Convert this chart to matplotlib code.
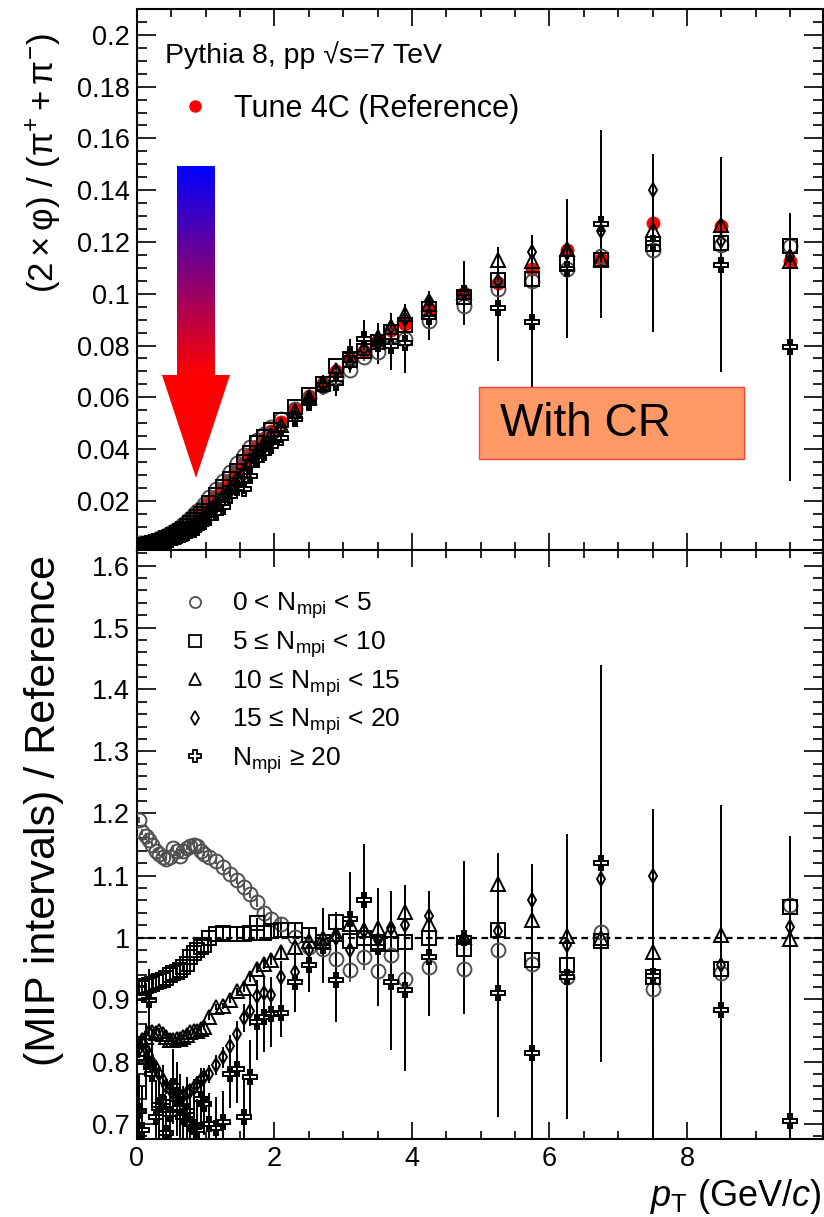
import numpy as np
import matplotlib
matplotlib.use("Agg")
import matplotlib.pyplot as plt
from matplotlib.lines import Line2D
from matplotlib.patches import Polygon, Rectangle
from matplotlib.colors import LinearSegmentedColormap
from matplotlib.ticker import MultipleLocator, FuncFormatter

plt.rcParams['font.family'] = ['Liberation Sans', 'DejaVu Sans']
plt.rcParams['mathtext.fontset'] = 'custom'
plt.rcParams['mathtext.rm'] = 'Liberation Sans'
plt.rcParams['mathtext.it'] = 'Liberation Sans:italic'
plt.rcParams['mathtext.bf'] = 'Liberation Sans:bold'

# -----------------------------
# DATA
# -----------------------------
pt = [0.025, 0.075, 0.125, 0.175, 0.225, 0.275, 0.325, 0.375, 0.425, 0.475,
      0.525, 0.575, 0.625, 0.675, 0.725, 0.775, 0.825, 0.875, 0.925, 0.975,
      1.05, 1.15, 1.25, 1.35, 1.45, 1.55, 1.65, 1.75, 1.85, 1.95,
      2.1, 2.3, 2.5, 2.7, 2.9, 3.1, 3.3, 3.5, 3.7, 3.9,
      4.25, 4.75, 5.25, 5.75, 6.25, 6.75, 7.5, 8.5, 9.5]

# Tune 4C reference phi/pi ratio
ref = [0.0030, 0.0031, 0.0033, 0.0036, 0.0040, 0.0044, 0.0049, 0.0054, 0.0060, 0.0066,
       0.0072, 0.0080, 0.0088, 0.0097, 0.0107, 0.0117, 0.0128, 0.0140, 0.0152, 0.0164,
       0.0190, 0.0220, 0.0250, 0.0282, 0.0315, 0.0348, 0.0382, 0.0413, 0.0442, 0.0470,
       0.0505, 0.0555, 0.0605, 0.0655, 0.0702, 0.0746, 0.0780, 0.0820, 0.0860, 0.0884,
       0.0940, 0.1004, 0.1040, 0.1096, 0.1170, 0.1135, 0.1274, 0.1260, 0.1127]

# ratios (MIP interval / reference)
r_0_5 = [1.19, 1.17, 1.163, 1.158, 1.15, 1.14, 1.135, 1.13, 1.127, 1.13,
         1.145, 1.14, 1.132, 1.14, 1.145, 1.148, 1.15, 1.147, 1.14, 1.135,
         1.13, 1.123, 1.113, 1.103, 1.093, 1.082, 1.07, 1.057, 1.04, 1.03,
         1.022, 1.001, 0.985, 0.982, 0.965, 0.947, 0.968, 0.946, 0.971, 0.933,
         0.953, 0.95, 0.98, 0.958, 0.937, 1.009, 0.917, 0.943, 1.052]
r_5_10 = [0.91, 0.918, 0.922, 0.923, 0.925, 0.928, 0.93, 0.931, 0.935, 0.939,
          0.942, 0.944, 0.948, 0.952, 0.958, 0.968, 0.975, 0.98, 0.984, 0.988,
          1.0, 1.006, 1.008, 1.006, 1.006, 1.006, 1.008, 1.024, 1.008, 1.011,
          1.012, 1.012, 1.004, 0.993, 1.025, 0.995, 1.0, 0.99, 0.99, 0.993,
          1.0, 0.982, 1.012, 0.964, 0.956, 0.995, 0.937, 0.95, 1.05]
r_10_15 = [0.82, 0.835, 0.84, 0.847, 0.848, 0.846, 0.85, 0.845, 0.84, 0.835,
           0.834, 0.836, 0.837, 0.84, 0.843, 0.847, 0.85, 0.85, 0.852, 0.855,
           0.872, 0.888, 0.89, 0.9, 0.913, 0.918, 0.935, 0.95, 0.957, 0.963,
           0.977, 0.985, 0.995, 1.0, 1.006, 1.022, 1.012, 1.015, 1.012, 1.041,
           1.022, 1.001, 1.087, 1.028, 1.002, 1.0, 0.977, 1.004, 0.998]
r_15_20 = [0.82, 0.83, 0.82, 0.81, 0.80, 0.79, 0.78, 0.77, 0.76, 0.755,
           0.75, 0.748, 0.745, 0.745, 0.75, 0.752, 0.758, 0.763, 0.77, 0.775,
           0.78, 0.795, 0.807, 0.825, 0.845, 0.87, 0.882, 0.905, 0.91, 0.907,
           0.937, 0.944, 0.98, 0.99, 1.0, 0.98, 1.01, 0.996, 1.015, 1.02,
           1.035, 0.998, 1.01, 1.06, 0.988, 1.095, 1.1, 0.956, 1.017]
r_20 = [0.72, 0.69, 0.80, 0.90, 0.78, 0.71, 0.73, 0.735, 0.685, 0.715,
        0.76, 0.74, 0.725, 0.71, 0.72, 0.70, 0.695, 0.69, 0.74, 0.732,
        0.70, 0.692, 0.702, 0.78, 0.788, 0.71, 0.775, 0.863, 0.871, 0.877,
        0.879, 0.928, 0.955, 0.987, 0.932, 1.03, 1.06, 0.985, 0.928, 0.915,
        0.968, 1.0, 0.91, 0.814, 0.937, 1.12, 0.938, 0.883, 0.704]

# ratio uncertainties
e_low = [0.005, 0.005, 0.005, 0.005, 0.004, 0.004, 0.004, 0.004, 0.004, 0.004,
         0.004, 0.004, 0.004, 0.004, 0.004, 0.004, 0.004, 0.004, 0.004, 0.004,
         0.005, 0.005, 0.005, 0.006, 0.006, 0.006, 0.007, 0.007, 0.008, 0.008,
         0.010, 0.011, 0.012, 0.014, 0.016, 0.018, 0.020, 0.022, 0.024, 0.026,
         0.03, 0.04, 0.05, 0.06, 0.06, 0.08, 0.09, 0.10, 0.10]
e_15_20 = [0.015, 0.015, 0.014, 0.014, 0.013, 0.013, 0.012, 0.012, 0.012, 0.012,
           0.012, 0.012, 0.012, 0.012, 0.012, 0.012, 0.013, 0.013, 0.013, 0.014,
           0.015, 0.016, 0.017, 0.018, 0.020, 0.022, 0.024, 0.026, 0.028, 0.030,
           0.025, 0.030, 0.033, 0.036, 0.040, 0.045, 0.050, 0.055, 0.060, 0.065,
           0.04, 0.06, 0.08, 0.058, 0.10, 0.15, 0.10, 0.15, 0.14]
e_20 = [0.06, 0.07, 0.06, 0.05, 0.06, 0.06, 0.055, 0.06, 0.06, 0.055,
        0.06, 0.06, 0.055, 0.05, 0.055, 0.05, 0.055, 0.05, 0.05, 0.05,
        0.05, 0.05, 0.05, 0.055, 0.055, 0.06, 0.06, 0.06, 0.055, 0.053,
        0.04, 0.048, 0.043, 0.06, 0.068, 0.075, 0.09, 0.095, 0.11, 0.13,
        0.094, 0.123, 0.2, 0.3, 0.23, 0.32, 0.27, 0.33, 0.46]

labels = [r'0 < $\mathregular{N_{mpi}}$ < 5',
          r'5 ≤ $\mathregular{N_{mpi}}$ < 10',
          r'10 ≤ $\mathregular{N_{mpi}}$ < 15',
          r'15 ≤ $\mathregular{N_{mpi}}$ < 20',
          r'$\mathregular{N_{mpi}}$ ≥ 20']

# marker, size, edge colour, legend size
series = [
    (r_0_5, e_low, 'o', 10, '#505050', 8),
    (r_5_10, e_low, 's', 9.5, 'black', 8),
    (r_10_15, e_low, '^', 9.5, 'black', 8.5),
    (r_15_20, e_15_20, 'd', 7, 'black', 7),
    (r_20, e_20, 'P', 10.5, 'black', 9),
]

W, H = 824, 1217
fig = plt.figure(figsize=(W / 100, H / 100), dpi=100)
ax1 = fig.add_axes([137 / W, 1 - 550 / H, 686 / W, 541 / H])
ax2 = fig.add_axes([137 / W, 1 - 1139 / H, 686 / W, 589 / H])

pt_a = np.array(pt)
ref_a = np.array(ref)

# -----------------------------
# TOP PANEL
# -----------------------------
ax1.plot(pt_a, ref_a, 'o', color='red', ms=10, mec='none', zorder=2)
for vals, errs, mk, ms, col, lms in series:
    v = np.array(vals) * ref_a
    e = np.array(errs) * ref_a
    ax1.errorbar(pt_a, v, yerr=e, fmt=mk, ms=ms, mfc='none', mec=col, mew=1.4,
                 ecolor=col, elinewidth=1.4, capsize=0, zorder=3)

ax1.set_xlim(0, 9.98)
ax1.set_ylim(0.001, 0.21)
ax1.yaxis.set_major_locator(MultipleLocator(0.02))
ax1.yaxis.set_minor_locator(MultipleLocator(0.005))
ax1.tick_params(labelbottom=False)

ax1.text(0.041, 0.915, 'Pythia 8, pp √s=7 TeV', transform=ax1.transAxes,
         fontsize=20.5, ha='left', va='center')
ref_handle = Line2D([], [], ls='none', marker='o', color='red', ms=9, mec='none')
ax1.legend([ref_handle], ['Tune 4C (Reference)'], loc='upper left',
           bbox_to_anchor=(0.064, 0.843), frameon=False, fontsize=22,
           handlelength=0.9, handletextpad=0.85, borderpad=0, borderaxespad=0)

# -----------------------------
# BOTTOM PANEL
# -----------------------------
handles = []
for (vals, errs, mk, ms, col, lms), lab in zip(series, labels):
    ax2.errorbar(pt_a, vals, yerr=errs, fmt=mk, ms=ms, mfc='none', mec=col, mew=1.4,
                 ecolor=col, elinewidth=1.4, capsize=0, zorder=3)
    handles.append(Line2D([], [], ls='none', marker=mk, ms=lms, mfc='none',
                          mec=col, mew=1.3))
ax2.axhline(1.0, color='black', ls=(0, (3, 2)), lw=1.6, zorder=2)

ax2.set_xlim(0, 9.98)
ax2.set_ylim(0.675, 1.625)
ax2.yaxis.set_major_locator(MultipleLocator(0.1))
ax2.yaxis.set_minor_locator(MultipleLocator(0.02))

ax2.legend(handles, labels, loc='upper left', bbox_to_anchor=(0.067, 0.931),
           frameon=False, fontsize=19, handlelength=0.9, handletextpad=0.95,
           labelspacing=0.3, borderpad=0, borderaxespad=0)

fmt = FuncFormatter(lambda v, p: f'{v:g}')
for ax in (ax1, ax2):
    ax.xaxis.set_major_locator(MultipleLocator(2))
    ax.xaxis.set_minor_locator(MultipleLocator(0.5))
    ax.yaxis.set_major_formatter(fmt)
    ax.xaxis.set_major_formatter(fmt)
    ax.tick_params(which='both', direction='in', top=True, right=True,
                   labelsize=19.5, width=1.2, colors='black')
    ax.tick_params(axis='y', which='major', length=14, pad=5)
    ax.tick_params(axis='y', which='minor', length=7)
    ax.tick_params(axis='x', which='major', length=12)
    ax.tick_params(axis='x', which='minor', length=6)
    ax.tick_params(axis='x', pad=5)
    for s in ax.spines.values():
        s.set_linewidth(1.5)

fig.text(44 / W, 1 - 33 / H,
         r'$(2\times\mathrm{\varphi})\ /\ (\mathrm{\pi}^{+} + \mathrm{\pi}^{-})$',
         rotation=90, ha='center', va='top', fontsize=25)
fig.text(44 / W, 1 - 555 / H, '(MIP intervals) / Reference',
         rotation=90, ha='center', va='top', fontsize=31)
fig.text(822 / W, 1 - 1196 / H, r'$p_{\mathrm{T}}$ (GeV/$c$)',
         ha='right', va='center', fontsize=26)

# -----------------------------
# ANNOTATIONS (arrow + box), pixel overlay
# -----------------------------
ov = fig.add_axes([0, 0, 1, 1], zorder=10)
ov.axis('off')
ov.patch.set_alpha(0)

grad = LinearSegmentedColormap.from_list('br', ['#0000ff', '#ff0000'])
ov.imshow(np.linspace(0, 1, 256).reshape(-1, 1), cmap=grad, aspect='auto',
          extent=(177, 215, 375, 166), interpolation='bilinear')
ov.add_patch(Polygon([(162, 375), (230, 375), (196, 478)], closed=True,
                     facecolor='#ff0000', edgecolor='none'))
ov.add_patch(Rectangle((479, 387), 265, 72, facecolor='#ff9966',
                       edgecolor='#ff4040', lw=1))
ov.text(500, 424, 'With CR', fontsize=33, ha='left', va='center')
ov.set_xlim(0, W)
ov.set_ylim(H, 0)

fig.savefig('out.png', dpi=100, facecolor='white')
